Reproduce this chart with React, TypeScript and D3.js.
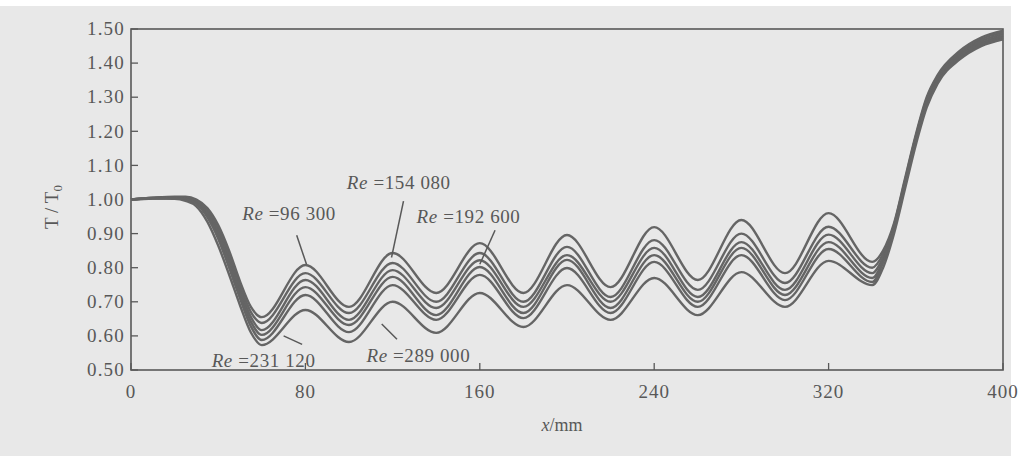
import React from 'react';
import * as d3 from 'd3';

const width = 1018;
const height = 456;
const margin = {top: 29, right: 15, bottom: 86, left: 131};
const ink = '#585858';
const lineInk = '#656565';
const paper = '#e8e8e8';

const xs = [0, 10, 20, 25, 30, 35, 40, 45, 50, 55, 60, 80, 100, 120, 140, 160, 180, 200, 220, 240, 260, 280, 300, 320, 340, 345, 350, 355, 360, 365, 370, 380, 390, 400];

// T/T0, top curve to bottom curve
const curve1 = [1.0, 1.005, 1.008, 1.008, 1.0, 0.975, 0.925, 0.85, 0.76, 0.685, 0.655, 0.808, 0.685, 0.843, 0.726, 0.872, 0.726, 0.896, 0.743, 0.919, 0.764, 0.94, 0.784, 0.96, 0.817, 0.85, 0.93, 1.06, 1.19, 1.3, 1.365, 1.435, 1.475, 1.495];
const curve2 = [1.0, 1.005, 1.007, 1.006, 0.997, 0.968, 0.915, 0.838, 0.748, 0.67, 0.638, 0.784, 0.667, 0.814, 0.7, 0.843, 0.7, 0.861, 0.714, 0.881, 0.735, 0.9, 0.755, 0.92, 0.8, 0.84, 0.925, 1.055, 1.185, 1.295, 1.36, 1.43, 1.47, 1.49];
const curve3 = [1.0, 1.004, 1.006, 1.004, 0.994, 0.962, 0.905, 0.826, 0.735, 0.655, 0.617, 0.764, 0.647, 0.793, 0.682, 0.822, 0.685, 0.837, 0.7, 0.858, 0.714, 0.875, 0.735, 0.897, 0.784, 0.83, 0.92, 1.05, 1.18, 1.29, 1.355, 1.425, 1.465, 1.485];
const curve4 = [1.0, 1.004, 1.005, 1.002, 0.99, 0.955, 0.895, 0.814, 0.722, 0.642, 0.603, 0.743, 0.632, 0.773, 0.661, 0.802, 0.667, 0.823, 0.682, 0.837, 0.7, 0.858, 0.72, 0.875, 0.77, 0.82, 0.915, 1.045, 1.175, 1.285, 1.35, 1.42, 1.46, 1.48];
const curve5 = [1.0, 1.003, 1.004, 1.0, 0.987, 0.948, 0.885, 0.8, 0.71, 0.628, 0.588, 0.72, 0.611, 0.749, 0.647, 0.779, 0.652, 0.799, 0.667, 0.817, 0.685, 0.837, 0.705, 0.855, 0.758, 0.815, 0.91, 1.04, 1.17, 1.28, 1.345, 1.415, 1.455, 1.475];
const curve6 = [1.0, 1.003, 1.002, 0.996, 0.98, 0.935, 0.865, 0.78, 0.69, 0.61, 0.573, 0.676, 0.582, 0.7, 0.609, 0.726, 0.626, 0.749, 0.647, 0.77, 0.661, 0.787, 0.685, 0.82, 0.749, 0.8, 0.9, 1.03, 1.16, 1.27, 1.34, 1.41, 1.45, 1.47];
const curves = [curve1, curve2, curve3, curve4, curve5, curve6];

const xTicks = [0, 80, 160, 240, 320, 400];
const yTicks = [0.5, 0.6, 0.7, 0.8, 0.9, 1.0, 1.1, 1.2, 1.3, 1.4, 1.5];

// labels: Re value, text anchor (mm, T/T0), leader from/to (mm, T/T0)
const reLabels = ['96 300', '154 080', '192 600', '231 120', '289 000'];
const labelPos = [[51, 0.94], [99, 1.03], [131, 0.93], [37, 0.51], [108, 0.524]];
const leaders = [[[76, 0.895], [80.5, 0.81]], [[125, 0.995], [119.5, 0.83]], [[167, 0.91], [160, 0.81]], [[78.5, 0.575], [70, 0.6]], [[122, 0.59], [115, 0.635]]];

const x = d3.scaleLinear().domain([0, 400]).range([margin.left, width - margin.right]);
const y = d3.scaleLinear().domain([0.5, 1.5]).range([height - margin.bottom, margin.top]);

const line = d3.line<number>()
    .x((d, i) => x(xs[i]))
    .y(d => y(d))
    .curve(d3.curveMonotoneX);

const font = '"Liberation Serif", "DejaVu Serif", serif';

export default function App() {
    const x0 = x(0), x1 = x(400), y0 = y(0.5), y1 = y(1.5);
    return (
        <svg width={width} height={height} style={{position: 'absolute', left: 0, top: 0}}>
            <rect x={0} y={0} width={width} height={height} fill='#ffffff'/>
            <rect x={0} y={6} width={1011} height={height - 6} fill={paper}/>
            {/* frame */}
            <rect x={x0} y={y1} width={x1 - x0} height={y0 - y1} fill='none' stroke={ink} strokeWidth={1.6}/>
            {yTicks.map(t => (
                <g key={t}>
                    <line x1={x0} x2={x0 + 7} y1={y(t)} y2={y(t)} stroke={ink} strokeWidth={1.3}/>
                    <text x={x0 - 6} y={y(t)} dy='0.33em' textAnchor='end' fontFamily={font} fontSize={19} letterSpacing={1.2} fill={ink}>{t.toFixed(2)}</text>
                </g>
            ))}
            {xTicks.map(t => (
                <g key={t}>
                    <line x1={x(t)} x2={x(t)} y1={y0} y2={y0 - 7} stroke={ink} strokeWidth={1.3}/>
                    <text x={x(t)} y={y0 + 28} textAnchor='middle' fontFamily={font} fontSize={19} letterSpacing={1} fill={ink}>{t}</text>
                </g>
            ))}
            {curves.map((c, i) => (
                <path key={i} d={line(c) || ''} fill='none' stroke={lineInk} strokeWidth={2.4}/>
            ))}
            {leaders.map((l, i) => (
                <line key={i} x1={x(l[0][0])} y1={y(l[0][1])} x2={x(l[1][0])} y2={y(l[1][1])} stroke={ink} strokeWidth={1.5}/>
            ))}
            {reLabels.map((r, i) => (
                <text key={r} x={x(labelPos[i][0])} y={y(labelPos[i][1])} fontFamily={font} fontSize={19} letterSpacing={0.6} fill={ink}>
                    <tspan fontStyle='italic'>Re</tspan> =<tspan>{r}</tspan>
                </text>
            ))}
            <text transform={`translate(58, 207) rotate(-90)`} textAnchor='middle' fontFamily={font} fontSize={19} fill={ink}>
                T / T<tspan fontSize={13} dy='4'>0</tspan>
            </text>
            <text x={562} y={431} textAnchor='middle' fontFamily={font} fontSize={18} fill={ink}>
                <tspan fontStyle='italic'>x</tspan>/mm
            </text>
        </svg>
    );
}
